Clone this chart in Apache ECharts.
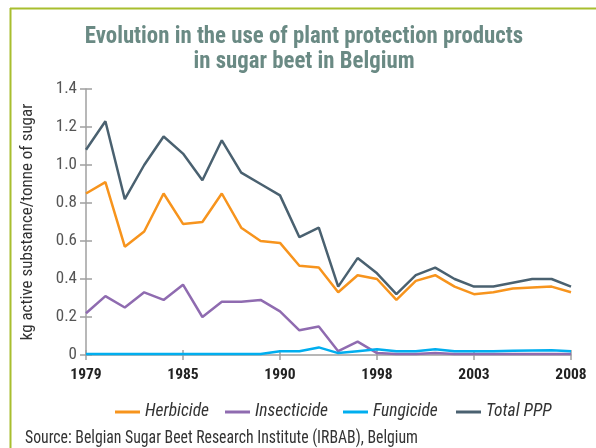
<!DOCTYPE html>
<html>
<head>
<meta charset="utf-8">
<script src="https://cdn.jsdelivr.net/npm/echarts@6/dist/echarts.min.js"></script>
<style>
html,body{margin:0;padding:0;background:#fff;}
#chart{width:596px;height:448px;}
</style>
</head>
<body>
<div id="chart"></div>
<script>
// Categories: 26 yearly observations; tick labels shown every 5th point
var categories = ['0','1','2','3','4','5','6','7','8','9','10','11','12','13','14','15','16','17','18','19','20','21','22','23','24','25'];
var tickLabels = ['1979','1985','1990','1998','2003','2008'];

var herbicide   = [0.85,0.91,0.57,0.65,0.85,0.69,0.70,0.85,0.67,0.60,0.59,0.47,0.46,0.33,0.42,0.40,0.29,0.39,0.42,0.36,0.32,0.33,0.35,0.355,0.36,0.33];
var insecticide = [0.22,0.31,0.25,0.33,0.29,0.37,0.20,0.28,0.28,0.29,0.23,0.13,0.15,0.02,0.07,0.01,0.005,0.005,0.01,0.005,0.005,0.005,0.005,0.005,0.005,0.005];
var fungicide   = [0.005,0.005,0.005,0.005,0.005,0.005,0.005,0.005,0.005,0.005,0.02,0.02,0.04,0.01,0.02,0.03,0.02,0.02,0.03,0.02,0.02,0.02,0.022,0.024,0.025,0.02];
var totalPPP    = [1.08,1.23,0.82,1.00,1.15,1.06,0.92,1.13,0.96,0.90,0.84,0.62,0.67,0.36,0.51,0.43,0.32,0.42,0.46,0.40,0.36,0.36,0.38,0.40,0.40,0.36];

var seriesNames = ['Herbicide','Insecticide','Fungicide','Total PPP'];
var colors = ['#f7941d','#8f6bb0','#00aeef','#4a6170'];
var titleLines = ['Evolution in the use of plant protection products', 'in sugar beet in Belgium'];
var sourceText = 'Source: Belgian Sugar Beet Research Institute (IRBAB), Belgium';
var yAxisTitle = 'kg active substance/tonne of sugar';

var FONT = '"Roboto Condensed","Open Sans Condensed","DejaVu Sans Condensed",sans-serif';
var legendLeft = [110, 220, 338, 451];

var chart = echarts.init(document.getElementById('chart'));
var dataSets = [herbicide, insecticide, fungicide, totalPPP];

var option = {
  animation: false,
  backgroundColor: '#fff',
  color: colors,
  graphic: [
    { type: 'line', shape: {x1: 10, y1: 8.5, x2: 596, y2: 8.5}, style: {stroke: '#a8be2e', lineWidth: 2} },
    { type: 'line', shape: {x1: 10.5, y1: 8, x2: 10.5, y2: 448}, style: {stroke: '#a8be2e', lineWidth: 2} },
    { type: 'text', x: 304, y: 49, scaleX: 0.95, style: {text: titleLines[0], x: 0, y: 0, textAlign: 'center', textVerticalAlign: 'bottom', fontFamily: FONT, fontWeight: 'bold', fontSize: 24, fill: '#6a8a84'} },
    { type: 'text', x: 304, y: 74, scaleX: 0.95, style: {text: titleLines[1], x: 0, y: 0, textAlign: 'center', textVerticalAlign: 'bottom', fontFamily: FONT, fontWeight: 'bold', fontSize: 24, fill: '#6a8a84'} },
    { type: 'text', x: 25, y: 448, scaleX: 0.9, style: {text: sourceText, x: 0, y: 0, textAlign: 'left', textVerticalAlign: 'bottom', fontFamily: FONT, fontSize: 17.5, fill: '#333'} }
  ],
  legend: seriesNames.map(function (n, k) {
    return {
      data: [n],
      left: legendLeft[k],
      top: 398,
      icon: 'rect',
      itemWidth: 25,
      itemHeight: 3,
      itemGap: 0,
      textStyle: { fontFamily: FONT, fontStyle: 'italic', fontSize: 17.5, color: '#333' }
    };
  }),
  grid: { left: 86, right: 25, top: 89, bottom: 93, containLabel: false },
  xAxis: [
    {
      type: 'category',
      data: categories,
      boundaryGap: false,
      axisLine: { lineStyle: { color: '#a0a0a0', width: 1.5 } },
      axisTick: { show: true, interval: 4, length: 5, lineStyle: { color: '#a0a0a0', width: 1.5 } },
      axisLabel: {
        interval: 4,
        margin: 12,
        formatter: function (v, i) { return tickLabels[Math.round(i / 5)] || ''; },
        fontFamily: FONT, fontWeight: 'bold', fontSize: 15.5, color: '#222'
      }
    },
    {
      type: 'category',
      data: categories,
      boundaryGap: false,
      position: 'bottom',
      axisLine: { show: false },
      axisTick: { show: true, inside: true, interval: 4, length: 5, lineStyle: { color: '#a0a0a0', width: 1.5 } },
      axisLabel: { show: false }
    }
  ],
  yAxis: [
    {
      type: 'value',
      min: 0, max: 1.4, interval: 0.2,
      name: yAxisTitle,
      nameLocation: 'middle',
      nameGap: 50,
      nameRotate: 90,
      nameTextStyle: { fontFamily: FONT, fontSize: 17, color: '#333' },
      axisLine: { show: true, lineStyle: { color: '#a0a0a0', width: 1.5 } },
      axisTick: { show: true, length: 6, lineStyle: { color: '#a0a0a0', width: 1.5 } },
      splitLine: { show: false },
      axisLabel: {
        margin: 9,
        formatter: function (v) { return v === 0 ? '0' : v.toFixed(1); },
        fontFamily: FONT, fontSize: 17, color: '#555'
      }
    },
    {
      type: 'value',
      min: 0, max: 1.4, interval: 0.2,
      position: 'left',
      axisLine: { show: false },
      axisTick: { show: true, inside: true, length: 6, lineStyle: { color: '#a0a0a0', width: 1.5 } },
      splitLine: { show: false },
      axisLabel: { show: false }
    }
  ],
  series: seriesNames.map(function (n, k) {
    return {
      name: n,
      type: 'line',
      data: dataSets[k],
      xAxisIndex: 0,
      yAxisIndex: 0,
      symbol: 'none',
      lineStyle: { width: 2.5, color: colors[k] },
      z: k === 2 ? 3 : 2
    };
  })
};
chart.setOption(option);
</script>
</body>
</html>
